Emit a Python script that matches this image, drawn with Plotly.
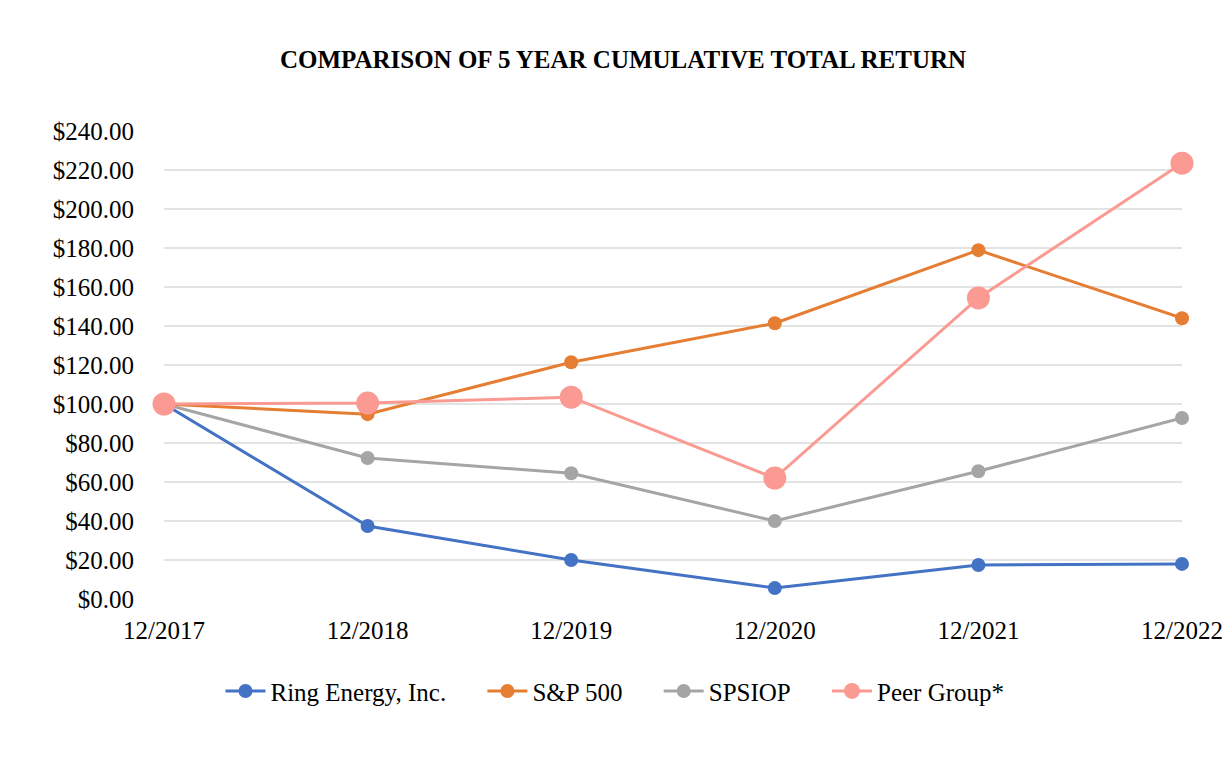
import plotly.graph_objects as go

categories = ["12/2017", "12/2018", "12/2019", "12/2020", "12/2021", "12/2022"]
ring = [100.0, 37.4, 20.0, 5.6, 17.4, 18.0]
sp500 = [100.0, 94.8, 121.4, 141.4, 178.9, 144.0]
spsiop = [100.0, 72.3, 64.5, 40.0, 65.5, 92.8]
peer = [100.0, 100.5, 103.5, 62.0, 154.4, 223.5]
yticks = [0, 20, 40, 60, 80, 100, 120, 140, 160, 180, 200, 220, 240]

series = [
    ("Ring Energy, Inc.", ring, "#4472C4", 14),
    ("S&P 500", sp500, "#E57E33", 14),
    ("SPSIOP", spsiop, "#A5A5A5", 14),
    ("Peer Group*", peer, "#FA9A92", 23),
]

pad = "\u00a0" * 5
x = list(range(len(categories)))
fig = go.Figure()
for i, (name, vals, color, msize) in enumerate(series):
    label = name + (pad if i < len(series) - 1 else "")
    fig.add_trace(go.Scatter(
        x=x, y=vals, name=label, mode="lines+markers",
        line=dict(color=color, width=3),
        marker=dict(color=color, size=msize),
        cliponaxis=False,
    ))

font_family = "Liberation Serif, Times New Roman, serif"
fig.update_layout(
    width=1230, height=760,
    margin=dict(l=156, r=56, t=123, b=169),
    paper_bgcolor="white", plot_bgcolor="white",
    font=dict(family=font_family, size=25, color="black"),
    title=dict(text="<b>COMPARISON OF 5 YEAR CUMULATIVE TOTAL RETURN</b>",
               x=0.5, xanchor="center", y=0.933, yanchor="middle",
               font=dict(family=font_family, size=25, color="black")),
    showlegend=True,
    legend=dict(orientation="h", x=0.443, xanchor="center", y=-0.197, yanchor="middle",
                font=dict(family=font_family, size=25, color="black"),
                itemwidth=40, tracegroupgap=0),
    xaxis=dict(range=[0, 5], tickvals=x, ticktext=categories, showgrid=False,
               zeroline=False, showline=False, ticks="", ticklabelstandoff=14,
               tickfont=dict(size=25)),
    yaxis=dict(range=[0, 240], tickvals=yticks,
               ticktext=["$%.2f" % v for v in yticks],
               showgrid=True, gridcolor="#E3E3E3", gridwidth=1.5,
               zeroline=False, showline=False, ticks="", ticklabelstandoff=29,
               tickfont=dict(size=25)),
)
fig.write_html("out.html")
